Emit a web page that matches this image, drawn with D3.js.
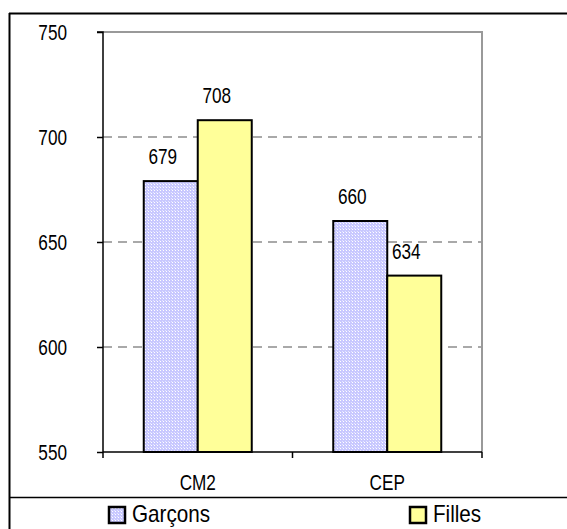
<!DOCTYPE html>
<html><head><meta charset="utf-8">
<script src="https://cdn.jsdelivr.net/npm/d3@7"></script>
<style>body{margin:0;background:#fff}svg{display:block}</style>
</head><body>
<svg id="c" width="567" height="529"></svg>
<script>
const categories = ["CM2", "CEP"];
const series = ["Garçons", "Filles"];
const garcons = [679, 660];
const filles = [708, 634];
const yTicks = [550, 600, 650, 700, 750];

const font = "'Liberation Sans Narrow','Arial Narrow','Liberation Sans',Arial,sans-serif";
function narrow(ratio) {
  return sel => sel.each(function() {
    const len = this.getComputedTextLength();
    d3.select(this).attr("textLength", len * ratio).attr("lengthAdjust", "spacingAndGlyphs");
  });
}
const svg = d3.select("#c");
const defs = svg.append("defs");
const pat = defs.append("pattern").attr("id","dots").attr("patternUnits","userSpaceOnUse")
  .attr("width",3).attr("height",3);
pat.append("rect").attr("width",3).attr("height",3).attr("fill","#c8c8ff");
pat.append("rect").attr("x",1).attr("y",1).attr("width",1).attr("height",1).attr("fill","#ffffff");
pat.append("rect").attr("x",0).attr("y",0).attr("width",1).attr("height",1).attr("fill","#e6e6ff");

const fills = ["url(#dots)", "#ffff99"];
const L = 103, R = 482, T = 32, B = 452;

const x = d3.scaleBand().domain(categories).range([L, R]).paddingInner(0).paddingOuter(0);
const xs = d3.scaleBand().domain(series).range([0, 108]);
const y = d3.scaleLinear().domain([550, 750]).range([B, T]);

// outer frame
svg.append("line").attr("x1",9).attr("x2",567).attr("y1",13.5).attr("y2",13.5).attr("stroke","#000").attr("stroke-width",2);
svg.append("line").attr("x1",9.5).attr("x2",9.5).attr("y1",13).attr("y2",529).attr("stroke","#000").attr("stroke-width",2);
svg.append("line").attr("x1",9).attr("x2",567).attr("y1",497.5).attr("y2",497.5).attr("stroke","#000").attr("stroke-width",1.5);

// gridlines
svg.append("g").selectAll("line").data(yTicks.filter(d => d > 550 && d < 750)).join("line")
  .attr("x1", L).attr("x2", R).attr("y1", d => y(d)).attr("y2", d => y(d))
  .attr("stroke", "#555").attr("stroke-width", 1.2).attr("stroke-dasharray", "9,6");

// plot border top/right gray
svg.append("path").attr("d", `M${L},${y(750)}H${R}V${B}`).attr("fill","none").attr("stroke","#999").attr("stroke-width",2);

// bars
const data = categories.map((c, i) => ({c, vals: [garcons[i], filles[i]]}));
const g = svg.append("g");
data.forEach(d => {
  const x0 = x(d.c) + (x.bandwidth() - 108) / 2;
  d.vals.forEach((v, j) => {
    g.append("rect").attr("x", x0 + xs(series[j])).attr("y", y(v))
      .attr("width", xs.bandwidth()).attr("height", y(550) - y(v))
      .attr("fill", fills[j]).attr("stroke", "#000").attr("stroke-width", 2);
    g.append("text").attr("x", x0 + xs(series[j]) + xs.bandwidth()/2 - 8).attr("y", y(v) - 17)
      .attr("text-anchor","middle").attr("font-family",font).attr("font-size",22).attr("fill","#000")
      .text(v).call(narrow(0.78));
  });
});

// y axis
const ya = svg.append("g").attr("transform", `translate(${L},0)`)
  .call(d3.axisLeft(y).tickValues(yTicks).tickSize(6).tickPadding(30).tickFormat(d3.format("d")));
ya.select(".domain").attr("stroke","#000").attr("stroke-width",1.5).attr("d", `M-6,${T}H0V${B}`);
ya.selectAll(".tick line").attr("stroke","#000").attr("stroke-width",1.5);
ya.selectAll(".tick text").attr("font-family",font).attr("font-size",22).attr("fill","#000").attr("dy","0.35em").call(narrow(0.78));

// x axis
const xa = svg.append("g").attr("transform", `translate(0,${B})`)
  .call(d3.axisBottom(x).tickSize(0).tickPadding(22));
xa.select(".domain").attr("stroke","#000").attr("stroke-width",1.5).attr("d", `M${L},0H${R}`);
xa.selectAll(".tick text").attr("font-family",font).attr("font-size",22).attr("fill","#000").call(narrow(0.78));
xa.append("g").selectAll("line").data([L, x("CEP"), R]).join("line")
  .attr("x1", d => d).attr("x2", d => d).attr("y1", 0).attr("y2", 6)
  .attr("stroke","#000").attr("stroke-width",1.5);

// legend
const legX = [109, 410];
series.forEach((s, j) => {
  svg.append("rect").attr("x", legX[j]).attr("y", 507).attr("width", 16).attr("height", 16)
    .attr("fill", fills[j]).attr("stroke","#000").attr("stroke-width",2.5);
  svg.append("text").attr("x", legX[j] + 23).attr("y", 522).attr("font-family",font)
    .attr("font-size",24).attr("fill","#000").text(s).call(narrow(0.86));
});
</script>
</body></html>
